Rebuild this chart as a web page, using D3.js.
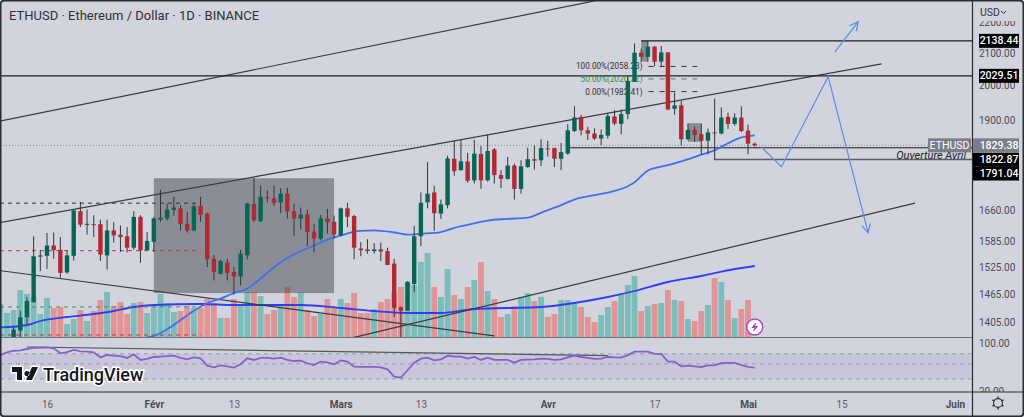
<!DOCTYPE html>
<html>
<head>
<meta charset="utf-8">
<script src="https://cdn.jsdelivr.net/npm/d3@7"></script>
<style>
  html, body { margin: 0; padding: 0; background: #fff; overflow: hidden; }
  svg { display: block; font-family: Roboto, sans-serif; }
</style>
</head>
<body>
<svg id="chart" width="1024" height="417"></svg>
<script>
const parse = d3.utcParse('%Y-%m-%d %H');
const day = s => parse('2023-' + s + (s.length > 5 ? '' : ' 00'));

// date, open, high, low, close, volume
const candles = [
  ['01-09',1290,1340,1280,1320,33],['01-10',1320,1352,1310,1335,24],['01-11',1335,1395,1330,1389,27],
  ['01-12',1387,1429,1373,1415,47],['01-13',1415,1458,1401,1450,43],['01-14',1447,1597,1447,1550,40],
  ['01-15',1549,1564,1516,1552,23],['01-16',1551,1605,1521,1575,39],['01-17',1575,1606,1544,1564,29],
  ['01-18',1565,1595,1501,1512,30],['01-19',1513,1564,1510,1552,13],['01-20',1551,1660,1540,1660,18],
  ['01-21',1658,1681,1619,1625,27],['01-22',1625,1662,1601,1627,16],['01-23',1626,1648,1595,1625,26],
  ['01-24',1626,1637,1539,1554,37],['01-25',1552,1637,1520,1611,45],['01-26',1611,1631,1582,1599,31],
  ['01-27',1601,1623,1560,1595,35],['01-28',1597,1619,1559,1570,23],['01-29',1570,1658,1565,1644,34],
  ['01-30',1644,1648,1535,1564,35],['01-31',1564,1607,1564,1586,24],['02-01',1584,1644,1560,1640,31],
  ['02-02',1637,1712,1632,1642,43],['02-03',1640,1677,1635,1662,34],['02-04',1661,1694,1647,1667,25],
  ['02-05',1665,1673,1611,1627,26],['02-06',1627,1657,1606,1611,31],['02-07',1611,1675,1609,1670,29],
  ['02-08',1671,1694,1632,1649,29],['02-09',1652,1655,1525,1543,38],['02-10',1544,1553,1495,1514,34],
  ['02-11',1510,1542,1508,1539,19],['02-12',1536,1544,1495,1512,19],['02-13',1514,1525,1464,1504,38],
  ['02-14',1504,1565,1484,1556,33],['02-15',1552,1679,1543,1677,45],['02-16',1676,1743,1632,1636,45],
  ['02-17',1633,1723,1632,1694,41],['02-18',1693,1711,1680,1691,23],['02-19',1690,1723,1671,1678,27],
  ['02-20',1680,1716,1653,1702,33],['02-21',1702,1717,1640,1657,50],['02-22',1658,1677,1598,1640,40],
  ['02-23',1640,1667,1613,1650,45],['02-24',1650,1662,1574,1607,27],['02-25',1608,1627,1559,1592,21],
  ['02-26',1591,1649,1587,1640,23],['02-27',1640,1664,1603,1631,38],['02-28',1632,1647,1591,1601,31],
  ['03-01',1599,1667,1597,1665,38],['03-02',1665,1679,1619,1644,34],['03-03',1646,1649,1543,1570,44],
  ['03-04',1568,1583,1550,1564,24],['03-05',1566,1590,1556,1562,24],['03-06',1562,1581,1556,1566,28],
  ['03-07',1566,1582,1539,1561,35],['03-08',1562,1570,1530,1530,38],['03-09',1533,1544,1415,1435,45],
  ['03-10',1436,1438,1373,1429,50],['03-11',1429,1493,1429,1492,54],['03-12',1487,1622,1469,1597,52],
  ['03-13',1597,1705,1574,1679,75],['03-14',1680,1784,1665,1702,84],['03-15',1705,1722,1610,1653,50],
  ['03-16',1652,1687,1639,1675,40],['03-17',1673,1801,1665,1794,68],['03-18',1793,1842,1748,1760,42],
  ['03-19',1763,1844,1761,1786,38],['03-20',1786,1809,1730,1735,50],['03-21',1736,1845,1728,1807,57],
  ['03-22',1806,1827,1714,1736,75],['03-23',1736,1858,1733,1814,46],['03-24',1818,1822,1728,1750,38],
  ['03-25',1750,1763,1716,1740,20],['03-26',1740,1798,1738,1775,23],['03-27',1775,1780,1687,1714,31],
  ['03-28',1714,1789,1702,1773,40],['03-29',1771,1823,1769,1792,44],['03-30',1792,1829,1764,1788,36],
  ['03-31',1789,1846,1774,1822,40],['04-01',1821,1842,1799,1819,20],['04-02',1822,1823,1771,1793,23],
  ['04-03',1793,1836,1763,1811,37],['04-04',1807,1888,1804,1871,37],['04-05',1869,1939,1866,1907,35],
  ['04-06',1908,1914,1857,1871,30],['04-07',1871,1881,1844,1862,20],['04-08',1862,1876,1844,1848,15],
  ['04-09',1848,1873,1830,1858,22],['04-10',1856,1919,1848,1911,30],['04-11',1910,1928,1885,1890,36],
  ['04-12',1889,1930,1860,1917,44],['04-13',1917,2028,1902,2014,52],['04-14',2012,2130,2012,2101,61],
  ['04-15',2101,2114,2073,2088,26],['04-16',2088,2138,2073,2120,31],['04-17',2120,2122,2059,2073,33],
  ['04-18',2073,2122,2058,2102,34],['04-19',2102,2102,1928,1930,47],['04-20',1932,1979,1915,1942,37],
  ['04-21',1942,1955,1829,1846,36],['04-22',1846,1890,1844,1872,18],['04-23',1872,1882,1839,1858,16],
  ['04-24',1860,1890,1805,1842,26],['04-25',1842,1876,1805,1865,32],['04-26',1865,1962,1789,1864,59],
  ['04-27',1862,1936,1860,1907,55],['04-28',1909,1921,1875,1889,37],['04-29',1889,1919,1884,1907,19],
  ['04-30',1907,1939,1866,1869,28],['05-01',1870,1887,1805,1834,37],['05-02',1834,1837,1826,1829.38,0]
].map(d => ({date: day(d[0]), open: d[1], high: d[2], low: d[3], close: d[4], vol: d[5]}));

// moving average on price
const priceMa = [
  ['01-31',1373],['02-01',1376],['02-03',1390],['02-05',1409],['02-07',1429],['02-09',1445],['02-11',1455],
  ['02-13',1467],['02-15',1477],['02-17',1499],['02-19',1525],['02-21',1546],['02-23',1562],['02-25',1575],
  ['02-27',1589],['03-01',1599],['03-04',1610],['03-06',1611],['03-09',1606],['03-11',1601],['03-13',1603],
  ['03-16',1607],['03-18',1617],['03-21',1628],['03-23',1635],['03-26',1639],['03-29',1642],['03-31',1654],
  ['04-03',1673],['04-05',1687],['04-08',1698],['04-11',1709],['04-13',1721],['04-14',1731],['04-15',1747],
  ['04-16',1762],['04-17',1768],['04-19',1776],['04-21',1786],['04-24',1804],['04-26',1816],['04-28',1835],
  ['04-30',1851],['05-02',1857]
];

// moving average on volume
const volMa = [
  ['01-09',9.5],['01-13',12],['01-15',16],['01-19',20],['01-23',23],['01-26',26],['01-29',30],['02-01',32],
  ['02-08',33],['02-13',32],['02-18',32],['02-23',32],['03-01',29],['03-06',26],['03-11',24],['03-16',24],
  ['03-21',28],['03-26',29],['03-31',30],['04-05',34],['04-10',40],['04-14',46],['04-19',55],['04-24',61],
  ['04-29',68],['05-02',71]
];

// daily RSI from 01-09 to 05-02
const rsi = [
  67.4,73.8,77.8,78.9,82.5,86,86,87.3,84.4,71.3,74.5,80,76,75.4,73.8,62,67.4,65.9,65,61,69,57,59,
  63,64,65,65.9,61,58,62,60.3,47,44.5,47.6,46,44,49.3,60.3,57,61,61,59.6,61.6,57,55,55.7,51,48,54,52.7,49.3,
  56.3,54,45.5,45,45,45,44.5,41.6,32.5,31.4,40.3,52,59.6,61.6,56.4,58.3,65.9,63.8,63.8,59.6,63,57,61.6,57,57,57,52,57,57.7,58.3,59.6,
  59,57,58.3,62,65.9,63,61,59,59.6,63,62,61.6,67,75.4,75.4,75.4,70,70,53.9,53.9,46,47,46,45,47.6,47.6,51,51.5,51.5,48,
  45,44
];

const trendLines = [
  {from: ['01-09',1897], to: ['04-08',2270]},
  {from: ['01-09',1630], to: ['05-21',2066]},
  {from: ['01-09',1517], to: ['03-24',1376]},
  {from: ['03-03',1373], to: ['05-26',1678]}
];

const levels = [
  {price: 2138.44, from: '04-15'},
  {price: 2029.51, from: '01-09'},
  {price: 1822.87, from: '04-04'},
  {price: 1791.04, from: '04-26', color: '#5b5e66', width: 1.5}
];

const boxes = [
  {from: '02-01', to: '02-28', top: 1741.6, bottom: 1467},
  {from: '04-15', to: '04-16', top: 2138, bottom: 2073},
  {from: '04-22', to: '04-24', top: 1891, bottom: 1839}
];

const oldFib = [
  {price: 1678, color: '#333'}, {price: 1563, color: '#c9343d'},
  {price: 1437, color: '#5b8a5b'}, {price: 1378, color: '#c9343d'}
];

const fib = [
  {label: '100.00%(2058.23)', price: 2058.23, color: '#333'},
  {label: '50.00%(2020.32)', price: 2020.32, color: '#3f8a3f'},
  {label: '0.00%(1982.41)', price: 1982.41, color: '#333'}
];

const scenario = [['05-03',1825],['05-06',1772],['05-13',2027],['05-19',1605]];
const scenarioUp = [['05-14',2103],['05-17 12',2201]];

const bgColor = '#d1d4dc', dark = '#2a2d35';
const up = '#056656', down = '#b22833';

const x = d3.scaleUtc().domain([day('01-16'), day('06-01')]).range([47, 955]);
const y = d3.scaleLog().domain([2100, 1405]).range([53, 322]);
const yVol = d3.scaleLinear().domain([0, 100]).range([337, 237]);
const yRsi = d3.scaleLog().domain([100, 20]).range([343.3, 391]);

const svg = d3.select('#chart');
const defs = svg.append('defs');
defs.append('clipPath').attr('id', 'pane').append('rect').attr('x', 1).attr('y', 1).attr('width', 971).attr('height', 336);
defs.append('clipPath').attr('id', 'rsi-pane').append('rect').attr('x', 1).attr('y', 338).attr('width', 971).attr('height', 54);
defs.append('clipPath').attr('id', 'axis-pane').append('rect').attr('x', 973).attr('y', 21).attr('width', 50).attr('height', 316);
defs.append('clipPath').attr('id', 'rsi-axis').append('rect').attr('x', 973).attr('y', 338).attr('width', 50).attr('height', 54);
defs.append('marker').attr('id', 'arrow').attr('viewBox', '0 0 10 10').attr('refX', 9).attr('refY', 5)
  .attr('markerWidth', 9).attr('markerHeight', 9).attr('orient', 'auto')
  .append('path').attr('d', 'M1,1 L9,5 L1,9').attr('fill', 'none').attr('stroke', '#5b8fe0').attr('stroke-width', 1.2);

svg.append('rect').attr('width', 1024).attr('height', 417).attr('fill', bgColor);

// main pane
const pane = svg.append('g').attr('clip-path', 'url(#pane)');

pane.append('g').selectAll('rect')
  .data(candles.filter(d => d.vol > 0))
  .join('rect')
    .attr('x', d => x(d.date) - 2.9)
    .attr('width', 5.8)
    .attr('y', d => yVol(d.vol))
    .attr('height', d => yVol(0) - yVol(d.vol))
    .attr('fill', d => d.close >= d.open ? 'rgba(38,166,154,0.5)' : 'rgba(239,83,80,0.5)');

pane.append('path')
  .datum(volMa)
  .attr('fill', 'none').attr('stroke', '#2f3ff0').attr('stroke-width', 1.8)
  .attr('d', d3.line().x(d => x(day(d[0]))).y(d => yVol(d[1])).curve(d3.curveMonotoneX));

// last price dotted line
pane.append('line')
  .attr('x1', 0).attr('x2', 928)
  .attr('y1', y(1829.38)).attr('y2', y(1829.38))
  .attr('stroke', '#8b8e96').attr('stroke-dasharray', '1,2');

pane.append('g').selectAll('rect')
  .data(boxes)
  .join('rect')
    .attr('x', d => x(day(d.from)))
    .attr('width', d => x(day(d.to)) - x(day(d.from)))
    .attr('y', d => y(d.top))
    .attr('height', d => y(d.bottom) - y(d.top))
    .attr('fill', 'rgba(70,70,75,0.5)');

pane.append('g').selectAll('line')
  .data(oldFib)
  .join('line')
    .attr('x1', 0).attr('x2', x(day('02-08')))
    .attr('y1', d => y(d.price)).attr('y2', d => y(d.price))
    .attr('stroke', d => d.color).attr('stroke-width', 1).attr('stroke-dasharray', '4,4');

pane.append('g').selectAll('line')
  .data(trendLines)
  .join('line')
    .attr('x1', d => x(day(d.from[0]))).attr('y1', d => y(d.from[1]))
    .attr('x2', d => x(day(d.to[0]))).attr('y2', d => y(d.to[1]))
    .attr('stroke', '#3a3c42').attr('stroke-width', 1.2);

pane.append('g').selectAll('line')
  .data(levels)
  .join('line')
    .attr('x1', d => x(day(d.from))).attr('x2', 972)
    .attr('y1', d => y(d.price)).attr('y2', d => y(d.price))
    .attr('stroke', d => d.color || '#1c1e23').attr('stroke-width', d => d.width || 1.1);

const fibRows = pane.append('g').selectAll('g').data(fib).join('g');
fibRows.append('line')
  .attr('x1', x(day('04-17')) - 6).attr('x2', x(day('04-24')) - 4)
  .attr('y1', d => y(d.price)).attr('y2', d => y(d.price))
  .attr('stroke', d => d.color).attr('stroke-dasharray', '5,6');
fibRows.append('text')
  .attr('x', x(day('04-17')) - 12).attr('y', d => y(d.price) + 3)
  .attr('text-anchor', 'end').attr('font-size', 8.2)
  .attr('fill', d => d.color)
  .text(d => d.label);

pane.append('path')
  .datum(priceMa)
  .attr('fill', 'none').attr('stroke', '#3f70ee').attr('stroke-width', 1.8)
  .attr('d', d3.line().x(d => x(day(d[0]))).y(d => y(d[1])).curve(d3.curveMonotoneX));

// candles
const candle = pane.append('g').selectAll('g').data(candles).join('g');
candle.append('line')
  .attr('x1', d => x(d.date)).attr('x2', d => x(d.date))
  .attr('y1', d => y(d.high)).attr('y2', d => y(d.low))
  .attr('stroke', '#33353b').attr('stroke-width', 1);
candle.append('rect')
  .attr('x', d => x(d.date) - 2.2)
  .attr('width', 4.4)
  .attr('y', d => y(Math.max(d.open, d.close)))
  .attr('height', d => Math.max(1, Math.abs(y(d.open) - y(d.close))))
  .attr('fill', d => d.close >= d.open ? up : down);

// projected path
const scenarioLine = d3.line().x(d => x(day(d[0]))).y(d => y(d[1]));
pane.append('path').datum(scenario)
  .attr('fill', 'none').attr('stroke', '#5b8fe0').attr('stroke-width', 1.2)
  .attr('marker-end', 'url(#arrow)').attr('d', scenarioLine);
pane.append('path').datum(scenarioUp)
  .attr('fill', 'none').attr('stroke', '#5b8fe0').attr('stroke-width', 1.2)
  .attr('marker-end', 'url(#arrow)').attr('d', scenarioLine);

pane.append('text')
  .attr('x', 966).attr('y', y(1791.04) - 0.5)
  .attr('text-anchor', 'end').attr('font-size', 11).attr('font-style', 'italic').attr('fill', '#222')
  .text('Ouverture Avril');

// alert icon
const bolt = pane.append('g').attr('transform', `translate(${x(day('05-02'))},327)`);
bolt.append('circle').attr('r', 8).attr('fill', '#fff').attr('stroke', '#ab47bc').attr('stroke-width', 1.4);
bolt.append('path').attr('d', 'M1.5,-5 L-3.5,1 L-0.5,1 L-1.5,5 L3.5,-1 L0.5,-1 Z').attr('fill', '#ab47bc');

svg.append('text')
  .attr('x', 9).attr('y', 19.5)
  .attr('font-size', 13).attr('fill', '#2f3138')
  .text('ETHUSD · Ethereum / Dollar · 1D · BINANCE');

// RSI pane
const rsiPane = svg.append('g').attr('clip-path', 'url(#rsi-pane)');
rsiPane.append('rect')
  .attr('x', 0).attr('width', 972)
  .attr('y', yRsi(70)).attr('height', yRsi(30) - yRsi(70))
  .attr('fill', 'rgba(126,87,194,0.1)');
rsiPane.append('g').selectAll('line')
  .data([70, 50, 30])
  .join('line')
    .attr('x1', 0).attr('x2', 972)
    .attr('y1', d => yRsi(d)).attr('y2', d => yRsi(d))
    .attr('stroke', '#9a9ca3').attr('stroke-dasharray', '4,4');
rsiPane.append('line')
  .attr('x1', x(day('01-13'))).attr('y1', yRsi(88.3))
  .attr('x2', x(day('04-10'))).attr('y2', yRsi(65.9))
  .attr('stroke', '#55575d').attr('stroke-width', 1.2);
rsiPane.append('path')
  .datum(rsi)
  .attr('fill', 'none').attr('stroke', '#8460cc').attr('stroke-width', 1.8)
  .attr('d', d3.line().x((d, i) => x(d3.utcDay.offset(day('01-09'), i))).y(d => yRsi(d)));

// logo
const logo = svg.append('g').attr('transform', 'translate(12,367)');
logo.append('path')
  .attr('d', 'M0,0 H10 V13 H5 V5 H0 Z M15,4 a2.6,2.6 0 1 0 0.01,0 Z M20,0 H26 L20,13 H14 Z')
  .attr('fill', '#131722').attr('stroke', '#fff').attr('stroke-width', 3).attr('paint-order', 'stroke');
svg.append('text')
  .attr('x', 43).attr('y', 381)
  .attr('font-size', 18).attr('font-weight', 500).attr('fill', '#131722')
  .attr('stroke', '#fff').attr('stroke-width', 3).attr('paint-order', 'stroke')
  .text('TradingView');

// price axes
const priceAxis = svg.append('g').attr('clip-path', 'url(#axis-pane)').append('g')
  .attr('transform', 'translate(973,0)')
  .call(d3.axisRight(y).tickValues([2200, 2100, 2000, 1900, 1770, 1660, 1585, 1525, 1465, 1405]).tickSize(0).tickPadding(6).tickFormat(d3.format('.2f')));
const rsiAxis = svg.append('g').attr('clip-path', 'url(#rsi-axis)').append('g').attr('transform', 'translate(973,0)')
  .call(d3.axisRight(yRsi).tickValues([100, 20]).tickSize(0).tickPadding(6).tickFormat(d3.format('.2f')));
[priceAxis, rsiAxis].forEach(a => {
  a.select('.domain').remove();
  a.selectAll('text').attr('font-family', 'Roboto, sans-serif').attr('font-size', 10).attr('fill', '#4a4c52');
});

// time axis
const tickNames = {'01-16': '16', '02-01': 'Févr', '02-13': '13', '03-01': 'Mars', '03-13': '13', '04-01': 'Avr', '04-17': '17', '05-01': 'Mai', '05-15': '15', '06-01': 'Juin'};
const fmt = d3.utcFormat('%m-%d');
const timeAxis = svg.append('g').attr('transform', 'translate(0,392)')
  .call(d3.axisBottom(x).tickValues(Object.keys(tickNames).map(day)).tickSize(0).tickPadding(9).tickFormat(d => tickNames[fmt(d)]));
timeAxis.select('.domain').remove();
timeAxis.selectAll('text')
  .attr('font-family', 'Roboto, sans-serif').attr('font-size', 10)
  .attr('font-weight', d => fmt(d).endsWith('-01') ? 700 : 400)
  .attr('fill', d => fmt(d).endsWith('-01') ? '#4a4c52' : '#5d5f66');

// frame and separators
svg.append('line').attr('x1', 0).attr('x2', 972).attr('y1', 337.5).attr('y2', 337.5).attr('stroke', '#6f7178').attr('stroke-width', 1.2);
svg.append('line').attr('x1', 0).attr('x2', 1024).attr('y1', 392).attr('y2', 392).attr('stroke', dark).attr('stroke-width', 1.2);
svg.append('line').attr('x1', 972.5).attr('x2', 972.5).attr('y1', 0).attr('y2', 417).attr('stroke', dark).attr('stroke-width', 1.2);
svg.append('rect').attr('x', 0.5).attr('y', 0.5).attr('width', 1023).attr('height', 416).attr('rx', 4)
  .attr('fill', 'none').attr('stroke', dark).attr('stroke-width', 2);

svg.append('text').attr('x', 980).attr('y', 16).attr('font-size', 10.5).attr('fill', '#33353b').text('USD');
svg.append('path').attr('d', 'M1001,11 l2.5,2.5 l2.5,-2.5').attr('fill', 'none').attr('stroke', '#33353b');

// price tags, stacked when they would collide
const tags = [
  {text: '2138.44', price: 2138.44, fill: '#000', left: 979},
  {text: '2029.51', price: 2029.51, fill: '#000', left: 979},
  {text: '1829.38', price: 1829.38, fill: '#7b7e88', left: 973},
  {text: '1822.87', price: 1822.87, fill: '#000', left: 973, shift: 12},
  {text: '1791.04', price: 1791.04, fill: '#000', left: 973, shift: 14}
];
const tagRows = svg.append('g').selectAll('g').data(tags).join('g')
  .attr('transform', d => `translate(0,${y(d.price) + (d.shift || 0)})`);
tagRows.append('rect').attr('x', d => d.left).attr('y', -7).attr('width', d => 1019 - d.left).attr('height', 14).attr('fill', d => d.fill);
tagRows.append('text').attr('x', 999).attr('y', 3.6).attr('text-anchor', 'middle')
  .attr('font-size', 10.5).attr('font-weight', 500).attr('fill', '#fff').text(d => d.text);

const nameTag = svg.append('g').attr('transform', `translate(928,${y(1829.38)})`);
nameTag.append('rect').attr('y', -7).attr('width', 43).attr('height', 14).attr('fill', '#7b7e88');
nameTag.append('text').attr('x', 21.5).attr('y', 3.6).attr('text-anchor', 'middle')
  .attr('font-size', 10.5).attr('fill', '#fff').text('ETHUSD');

// settings gear
const gear = svg.append('g').attr('transform', 'translate(998,403)').attr('stroke', '#2f3138').attr('fill', 'none');
gear.append('circle').attr('r', 4.4).attr('stroke-width', 1.1);
gear.selectAll('line').data(d3.range(6)).join('line')
  .attr('y1', -4.4).attr('y2', -6.4).attr('stroke-width', 1.4)
  .attr('transform', d => `rotate(${d * 60})`);
</script>
</body>
</html>
